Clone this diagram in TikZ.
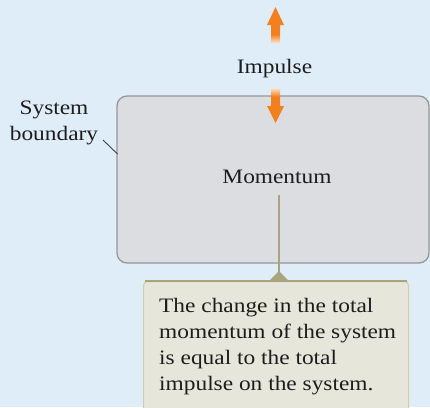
\documentclass[tikz,border=0pt]{standalone}
\usepackage{fontspec}
\setmainfont{Liberation Serif}[FakeStretch=1.14]
\usetikzlibrary{calc}
\definecolor{bgblue}{RGB}{222,237,247}
\definecolor{sysfill}{RGB}{220,221,224}
\definecolor{sysdraw}{RGB}{150,151,154}
\definecolor{orangeA}{RGB}{243,128,30}
\definecolor{orangeL}{RGB}{252,228,205}
\definecolor{olive}{RGB}{168,164,124}
\definecolor{notefill}{RGB}{230,230,219}
\definecolor{notedraw}{RGB}{208,206,176}
\definecolor{txt}{RGB}{30,28,28}
\pgfdeclareverticalshading{upfade}{100bp}{color(0bp)=(orangeL); color(25bp)=(orangeL); color(37bp)=(orangeA); color(100bp)=(orangeA)}
\pgfdeclareverticalshading{downfade}{100bp}{color(0bp)=(orangeA); color(63bp)=(orangeA); color(75bp)=(orangeL); color(100bp)=(orangeL)}
\tikzset{
  lbl/.style={font=\fontsize{20.5}{25.7}\selectfont, text=txt, inner sep=0pt},
  sysbox/.style={draw=sysdraw, fill=sysfill, line width=1.3pt, rounded corners=10pt, minimum width=312pt, minimum height=167pt, inner sep=0pt},
  notebox/.style={draw=notedraw, fill=notefill, line width=1pt, rounded corners=4pt, minimum width=265pt, minimum height=150pt, inner sep=0pt, anchor=north west},
  oliveline/.style={draw=olive, line width=2.6pt},
  leader/.style={draw=txt!85, line width=0.9pt}
}
\begin{document}
\begin{tikzpicture}[x=1pt,y=-1pt]
\useasboundingbox (0,0) rectangle (430,407);
\fill[bgblue] (0,0) rectangle (430,407);
% system box
\node[sysbox] (sys) at (273,179.5) {};
% arrows
\shade[shading=upfade] (271,43) -- (271,25) -- (267,25) -- (275.5,7) -- (284,25) -- (280,25) -- (280,43) -- cycle;
\shade[shading=downfade] (271,88) -- (271,106) -- (267,106) -- (275.5,123) -- (284,106) -- (280,106) -- (280,88) -- cycle;
% labels
\node[lbl, anchor=base] (imp) at (274.5,73) {Impulse};
\node[lbl, anchor=base] (mom) at (277,183) {Momentum};
\node[lbl, anchor=base, align=center] (sysl) at (54,140) {System\\boundary};
\coordinate (bstart) at (103,140);
\coordinate (bend) at (117.5,154);
\draw[leader] (bstart) -- (bend);
% callout
\node[notebox] (note) at (143,281) {};
\draw[oliveline] ($(note.north west)+(2,0)$) -- ($(note.north east)+(-2,0)$);
\coordinate (momtail) at (279,195);
\draw[oliveline] (momtail) -- (momtail |- note.north);
\fill[olive] ($(momtail |- note.north)+(-10,0)$) -- ($(momtail |- note.north)+(0,-10)$) -- ($(momtail |- note.north)+(10,0)$) -- cycle;
\node[lbl, anchor=north west, align=left] (notetext) at (159,298.5) {The change in the total\\momentum of the system\\is equal to the total\\impulse on the system.};
\end{tikzpicture}
\end{document}
